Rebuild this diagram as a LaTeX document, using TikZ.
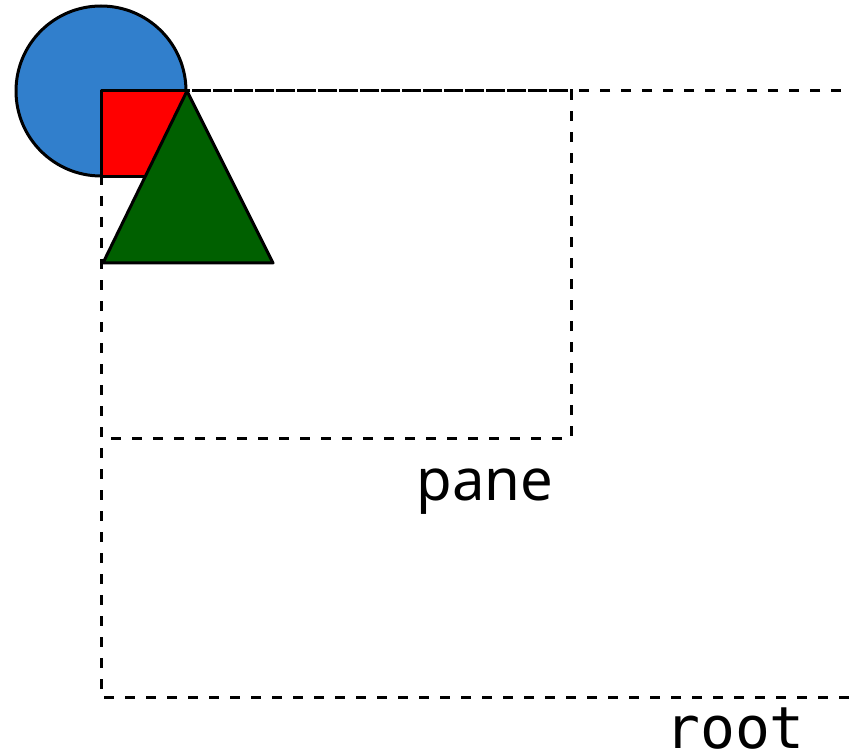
\documentclass[tikz,border=0pt]{standalone}
\usepackage{fontspec}
\setmainfont{Noto Sans}
\newfontfamily\monofnt{DejaVu Sans Mono}
\definecolor{cblue}{RGB}{49,127,204}
\definecolor{cgreen}{RGB}{0,96,0}
\begin{document}
\begin{tikzpicture}[x=1pt,y=-1pt,
  shapeline/.style={draw=black,line width=3pt,line join=round},
  frame/.style={draw=black,line width=3pt,dash pattern=on 10pt off 11pt},
  lbl/.style={inner sep=0pt,anchor=base,font=\fontsize{58}{60}\selectfont}]
\useasboundingbox (0,0) rectangle (849,754);
\node[shapeline,fill=cblue,circle,minimum size=170pt,inner sep=0pt] (circ) at (101,91) {};
\draw[shapeline,fill=red] (101,91) rectangle (187,177);
\draw[shapeline,fill=cgreen] (187,91) -- (273,263) -- (103,263) -- cycle;
\draw[frame] (101,91) rectangle (852,697);
\draw[frame] (101,91) rectangle (571,438);
\node[lbl] (pane) at (485,500) {pane};
\node[lbl,font=\monofnt\fontsize{58}{60}\selectfont] (root) at (735,748) {root};
\end{tikzpicture}
\end{document}
